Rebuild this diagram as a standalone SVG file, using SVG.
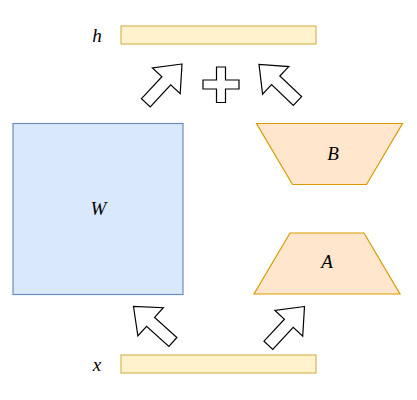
<svg xmlns="http://www.w3.org/2000/svg" width="417" height="400" viewBox="0 0 417 400">
<defs>
<style>
.bar{fill:#fff2cc;stroke:#d6b656;stroke-width:1.2}
.w{fill:#dae8fc;stroke:#6c8ebf;stroke-width:1.2}
.tr{fill:#ffe6cc;stroke:#d79b00;stroke-width:1.2}
.ar{fill:#ffffff;stroke:#000000;stroke-width:1.2;stroke-linejoin:miter}
.t{font-family:"Liberation Serif","DejaVu Serif",serif;font-style:italic;font-size:19px;fill:#000;text-anchor:middle;dominant-baseline:central}
</style>
<polygon id="blockArrow" points="0,0 -23,-19 -23,-6 -53,-6 -53,6 -23,6 -23,19"/>
</defs>
<g id="node-h">
<rect class="bar" x="121" y="26" width="195" height="18"/>
<text class="t" x="97" y="35">h</text>
</g>
<g id="node-x">
<rect class="bar" x="121" y="355" width="195" height="18"/>
<text class="t" x="97" y="364">x</text>
</g>
<g id="node-W">
<rect class="w" x="13" y="123.5" width="170" height="171"/>
<text class="t" x="98.5" y="208">W</text>
</g>
<g id="node-B">
<polygon class="tr" points="256.5,123.5 402.5,123.5 366.5,184.5 292.5,184.5"/>
<text class="t" x="333" y="153">B</text>
</g>
<g id="node-A">
<polygon class="tr" points="290,233 364,233 400,294 254,294"/>
<text class="t" x="327" y="261">A</text>
</g>
<g id="node-plus">
<polygon class="ar" points="216.5,67 225.5,67 225.5,80 239,80 239,89 225.5,89 225.5,102.5 216.5,102.5 216.5,89 203,89 203,80 216.5,80"/>
</g>
<g id="connectors">
<use href="#blockArrow" class="ar" transform="translate(182,64) rotate(-47)"/>
<use href="#blockArrow" class="ar" transform="translate(259,64.5) rotate(-136.5)"/>
<use href="#blockArrow" class="ar" transform="translate(133.5,306.5) rotate(-138)"/>
<use href="#blockArrow" class="ar" transform="translate(304.5,306.5) rotate(-47)"/>
</g>
</svg>
